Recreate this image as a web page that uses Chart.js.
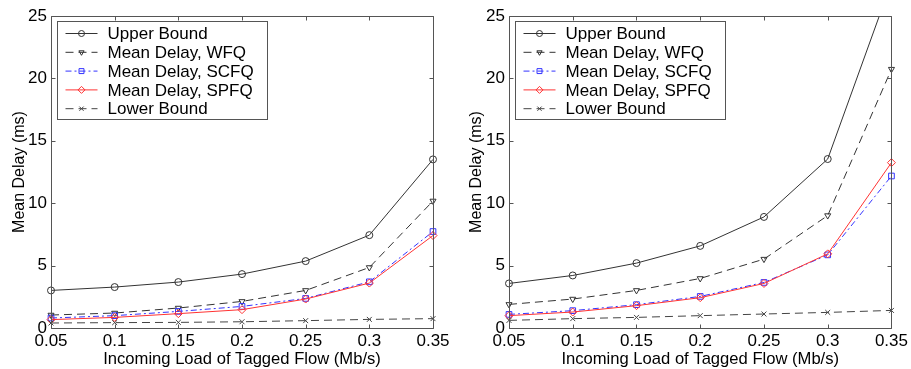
<!DOCTYPE html>
<html>
<head>
<meta charset="utf-8">
<script src="https://cdn.jsdelivr.net/npm/chart.js@4"></script>
<style>
html,body{margin:0;padding:0;background:#fff;}
#wrap{position:relative;width:911px;height:369px;overflow:hidden;}
.c{position:absolute;top:0;height:369px;}
#c1{left:0;width:455px;}
#c2{left:455px;width:456px;}
</style>
</head>
<body>
<div id="wrap">
<div class="c" id="c1"><canvas id="cv1"></canvas></div>
<div class="c" id="c2"><canvas id="cv2"></canvas></div>
</div>
<script>
// ---- data ----
const xLabels = ['0.05','0.1','0.15','0.2','0.25','0.3','0.35'];
const yTicks = [0,5,10,15,20,25];
const seriesNames = ['Upper Bound','Mean Delay, WFQ','Mean Delay, SCFQ','Mean Delay, SPFQ','Lower Bound'];

// left panel
const upperA = [3.01,3.28,3.68,4.32,5.36,7.44,13.51];
const wfqA   = [1.04,1.20,1.60,2.13,3.01,4.85,10.18];
const scfqA  = [0.80,0.99,1.33,1.73,2.37,3.70,7.73];
const spfqA  = [0.67,0.85,1.15,1.47,2.32,3.60,7.41];
const lowerA = [0.40,0.43,0.45,0.50,0.59,0.69,0.75];

// right panel
const upperB = [3.57,4.21,5.20,6.58,8.90,13.54,27.7];
const wfqB   = [1.89,2.32,3.01,3.97,5.52,9.01,20.74];
const scfqB  = [1.09,1.39,1.87,2.53,3.65,5.86,12.18];
const spfqB  = [0.99,1.28,1.79,2.43,3.57,5.94,13.25];
const lowerB = [0.61,0.75,0.85,0.99,1.12,1.25,1.41];

const FONT = '"Liberation Sans", Arial, Helvetica, sans-serif';
const styles = [
  {color:'#333333', dash:[], point:'circle', rot:0},
  {color:'#333333', dash:[8,5], point:'triangle', rot:180},
  {color:'#3333ff', dash:[6,3,2,3], point:'rect', rot:0},
  {color:'#ff3333', dash:[], point:'circle', rot:0, diamond:true},
  {color:'#444444', dash:[8,5], point:'crossRot', rot:0}
];

function makeDatasets(arrs){
  return arrs.map((d,i)=>{
    const s = styles[i];
    return {
      label: seriesNames[i],
      data: d,
      borderColor: s.color,
      backgroundColor: 'rgba(0,0,0,0)',
      borderWidth: 1,
      borderDash: s.dash,
      pointStyle: s.diamond ? 'rectRot' : s.point,
      pointRotation: s.rot,
      pointRadius: s.point==='rect' ? 4 : (s.diamond ? 4 : 3.5),
      pointBorderColor: s.color,
      pointBackgroundColor: 'rgba(0,0,0,0)',
      pointBorderWidth: 1,
      tension: 0,
      order: 5-i
    };
  });
}

const framePlugin = {
  id:'frame',
  afterDatasetsDraw(chart){
    const {ctx, chartArea:a, scales} = chart;
    ctx.save();
    ctx.strokeStyle = '#555';
    ctx.lineWidth = 1;
    ctx.setLineDash([]);
    ctx.beginPath();
    const L = Math.round(a.left)+0.5, R = Math.round(a.right)+0.5, T = Math.round(a.top)+0.5, B = Math.round(a.bottom)+0.5;
    ctx.rect(L, T, R-L, B-T);
    const tl = 4;
    scales.x.ticks.forEach((t,i)=>{
      const x = Math.round(scales.x.getPixelForTick(i))+0.5;
      ctx.moveTo(x,B); ctx.lineTo(x,B-tl);
      ctx.moveTo(x,T); ctx.lineTo(x,T+tl);
    });
    scales.y.ticks.forEach((t,i)=>{
      const y = Math.round(scales.y.getPixelForTick(i))+0.5;
      ctx.moveTo(L,y); ctx.lineTo(L+tl,y);
      ctx.moveTo(R,y); ctx.lineTo(R-tl,y);
    });
    ctx.stroke();

    // legend box (MATLAB style)
    const bx = Math.round(a.left)+6.5, by = Math.round(a.top)+5.5, bw = 210, bh = 98;
    ctx.fillStyle = '#fff';
    ctx.fillRect(bx, by, bw, bh);
    ctx.strokeStyle = '#555';
    ctx.strokeRect(bx, by, bw, bh);
    ctx.font = '17px ' + FONT;
    ctx.textBaseline = 'middle';
    ctx.textAlign = 'left';
    chart.data.datasets.forEach((ds,i)=>{
      const y = by + 12 + i*18.8;
      ctx.strokeStyle = ds.borderColor;
      ctx.lineWidth = 1;
      ctx.setLineDash(ds.borderDash);
      ctx.beginPath();
      ctx.moveTo(bx+8, y); ctx.lineTo(bx+40, y);
      ctx.stroke();
      ctx.setLineDash([]);
      ctx.fillStyle = 'rgba(0,0,0,0)';
      Chart.helpers.drawPoint(ctx, {pointStyle: ds.pointStyle, radius: ds.pointRadius - 0.5, rotation: ds.pointRotation, borderWidth:1}, bx+24, y);
      ctx.strokeStyle = ds.borderColor;
      ctx.fillStyle = '#000';
      ctx.fillText(ds.label, bx+50, y+1);
    });
    ctx.restore();
  }
};

function makeChart(id, arrs, yWidth, titlePad, rightPad){
  return new Chart(document.getElementById(id), {
    type:'line',
    data:{ labels: xLabels, datasets: makeDatasets(arrs) },
    plugins:[framePlugin],
    options:{
      responsive:true,
      maintainAspectRatio:false,
      animation:false,
      layout:{ padding:{left:0, right:rightPad, top:16, bottom:0} },
      plugins:{ legend:{display:false}, tooltip:{enabled:false} },
      scales:{
        x:{
          type:'category',
          offset:false,
          grid:{display:false, drawTicks:false},
          border:{display:false},
          ticks:{color:'#000', font:{family:FONT, size:17}, padding:3, maxRotation:0, autoSkip:false},
          title:{display:true, text:'Incoming Load of Tagged Flow (Mb/s)', color:'#000', font:{family:FONT, size:16.6}, padding:{top:0,bottom:0}},
          afterFit(s){ s.height = 41; }
        },
        y:{
          min:0, max:25,
          grid:{display:false, drawTicks:false},
          border:{display:false},
          afterBuildTicks(s){ s.ticks = yTicks.map(v=>({value:v})); },
          ticks:{color:'#000', font:{family:FONT, size:17}, padding:4},
          title:{display:true, text:'Mean Delay (ms)', color:'#000', font:{family:FONT, size:16}, padding:{top:titlePad,bottom:0}},
          afterFit(s){ s.width = yWidth; }
        }
      }
    }
  });
}

makeChart('cv1', [upperA,wfqA,scfqA,spfqA,lowerA], 51, 9.5, 22);
makeChart('cv2', [upperB,wfqB,scfqB,spfqB,lowerB], 54, 12, 19);
</script>
</body>
</html>
